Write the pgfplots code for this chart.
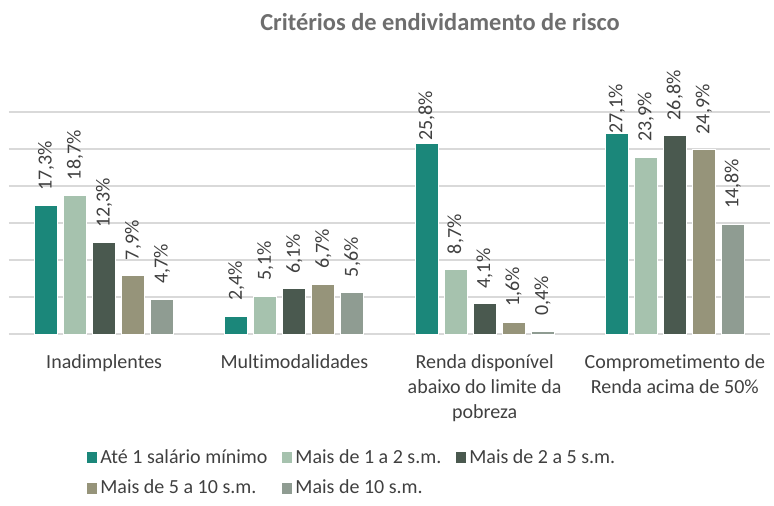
\documentclass[border=0pt]{standalone}
\usepackage{fontspec}
\setmainfont[Ligatures=NoCommon]{Carlito}
\usepackage{pgfplots}
\pgfplotsset{compat=1.18}
\usepackage{pgfplotstable}

\definecolor{cA}{HTML}{1B877A}
\definecolor{cB}{HTML}{A6C2AE}
\definecolor{cC}{HTML}{4A594F}
\definecolor{cD}{HTML}{96947A}
\definecolor{cE}{HTML}{8F9C92}
\definecolor{txt}{HTML}{404040}
\definecolor{ttl}{HTML}{6E6E6E}
\definecolor{grd}{HTML}{D9D9D9}

% x = category, y = value, off = gap of the label above the bar (pt)
\pgfplotstableread{
x y off
0 17.3 7.5
1 2.4 7.5
2 25.8 1
3 27.1 -0.5
}\tA
\pgfplotstableread{
x y off
0 18.7 7.5
1 5.1 7.5
2 8.7 7.5
3 23.9 7.5
}\tB
\pgfplotstableread{
x y off
0 12.3 7.5
1 6.1 7.5
2 4.1 7.5
3 26.8 7.5
}\tC
\pgfplotstableread{
x y off
0 7.9 7.5
1 6.7 7.5
2 1.6 7.5
3 24.9 7.5
}\tD
\pgfplotstableread{
x y off
0 4.7 7.5
1 5.6 7.5
2 0.4 7.5
3 14.8 7.5
}\tE

\begin{document}
\begin{tikzpicture}
\path[use as bounding box] (-4.5pt,-85.5pt) rectangle (382.5pt,167pt);
\begin{axis}[
  at={(0,0)}, anchor=south west,
  scale only axis,
  width=380.5pt, height=111pt,
  ybar=3pt, bar width=11.5pt,
  xmin=-0.5, xmax=3.5,
  ymin=0, ymax=30,
  xtick={0,1,2,3},
  xticklabels={Inadimplentes,Multimodalidades,{Renda disponível\\abaixo do limite da\\pobreza},{Comprometimento de\\Renda acima de 50\%}},
  xticklabel style={align=center, font=\fontsize{10}{12.5}\selectfont, text=txt, yshift=-7pt},
  ytick={0,5,...,30},
  yticklabels={},
  ymajorgrids,
  grid style={grd, line width=0.8pt},
  axis line style={draw=none},
  major tick length=0pt,
  clip=false,
  /pgf/number format/assume math mode=true,
  visualization depends on={\thisrow{off} \as \myoff},
  nodes near coords={\pgfmathprintnumber[fixed,fixed zerofill,precision=1,use comma]{\pgfplotspointmeta}\%},
  every node near coord/.append style={rotate=90, anchor=west, inner xsep=\myoff pt, inner ysep=0pt, font=\fontsize{10}{12}\selectfont, text=txt},
  every axis plot/.append style={draw=white, line width=0.5pt},
  legend columns=3,
  legend cell align=left,
  legend style={at={(0.0946,-0.49)}, anchor=north west, draw=none, fill=none,
    font=\fontsize{10}{12}\selectfont, text=txt, row sep=5pt,
    nodes={inner sep=1pt},
    /tikz/every odd column/.append style={column sep=0.5pt},
    /tikz/every even column/.append style={column sep=6.5pt}},
  legend image code/.code={\fill[#1,draw=none] (0pt,-2.75pt) rectangle (5pt,2.75pt);},
]
\addplot[fill=cA] table[x=x,y=y] {\tA};
\addlegendentry{Até 1 salário mínimo}
\addplot[fill=cB] table[x=x,y=y] {\tB};
\addlegendentry{Mais de 1 a 2 s.m.}
\addplot[fill=cC] table[x=x,y=y] {\tC};
\addlegendentry{Mais de 2 a 5 s.m.}
\addplot[fill=cD] table[x=x,y=y] {\tD};
\addlegendentry{Mais de 5 a 10 s.m.}
\addplot[fill=cE] table[x=x,y=y] {\tE};
\addlegendentry{Mais de 10 s.m.}
\end{axis}
\node[font=\bfseries\fontsize{12.2}{14}\selectfont, text=ttl] at (215.5pt,156pt) {Critérios de endividamento de risco};
\end{tikzpicture}
\end{document}
